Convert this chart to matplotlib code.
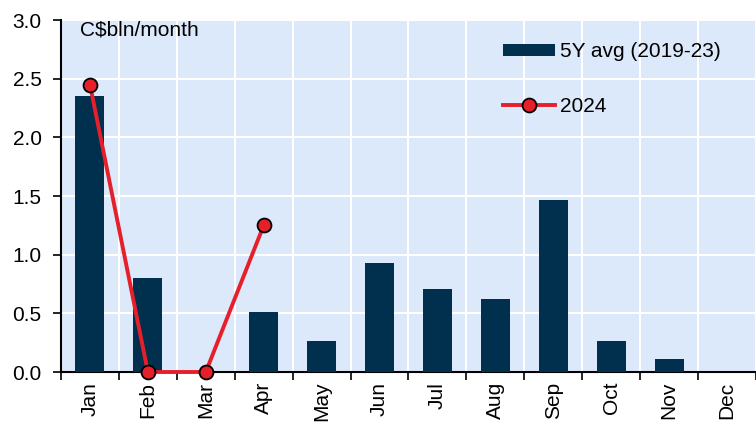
import numpy as np
import matplotlib
matplotlib.use("Agg")
import matplotlib.pyplot as plt

months = ["Jan", "Feb", "Mar", "Apr", "May", "Jun", "Jul", "Aug", "Sep", "Oct", "Nov", "Dec"]
avg_5y = [2.35, 0.80, 0.0, 0.51, 0.26, 0.93, 0.71, 0.62, 1.47, 0.26, 0.11, 0.0]
y2024 = [2.45, 0.0, 0.0, 1.25]
yticks = [0.0, 0.5, 1.0, 1.5, 2.0, 2.5, 3.0]

plt.rcParams['font.family'] = ['Liberation Sans', 'DejaVu Sans']
fs = 15

fig = plt.figure(figsize=(7.56, 4.23), dpi=100)
ax = fig.add_axes([61/756, 1 - 372/423, 1 - 61/756, 352/423])
ax.set_facecolor("#dce9fb")

x = np.arange(len(months))
bars = ax.bar(x, avg_5y, width=0.5, color="#00304d", label="5Y avg (2019-23)", zorder=3)
line, = ax.plot(x[:len(y2024)], y2024, color="#e5202a", lw=2.8, marker="o", ms=10,
                mfc="#e5202a", mec="black", mew=1.3, label="2024", zorder=4, clip_on=False)

ax.set_ylim(0, 3.0)
ax.set_yticks(yticks)
ax.set_yticklabels([f"{v:.1f}" for v in yticks], fontsize=fs)
ax.set_xlim(-0.5, 11.38)
ax.set_xticks(x)
ax.set_xticklabels(months, rotation=90, fontsize=fs)
ax.set_xticks(np.arange(-0.5, 12, 1), minor=True)
ax.tick_params(axis="x", which="major", length=0, pad=7)
ax.tick_params(axis="x", which="minor", length=6, direction="out", width=1.2)
ax.tick_params(axis="y", length=6, direction="out", width=1.2, pad=8)

ax.grid(axis="y", color="white", lw=1.5, zorder=0)
ax.grid(axis="x", which="minor", color="white", lw=1.5, zorder=0)
ax.set_axisbelow(True)

for s in ["top", "right"]:
    ax.spines[s].set_visible(False)
ax.spines["left"].set_linewidth(1.5)
ax.spines["bottom"].set_linewidth(1.5)

ax.text(19/695, (372 - 30) / 352, "C$bln/month", transform=ax.transAxes, fontsize=fs,
        va="center", ha="left")

ax.legend([bars, line], ["5Y avg (2019-23)", "2024"], loc="center left",
          bbox_to_anchor=((503 - 61) / 695, (372 - 79) / 352), frameon=False, fontsize=fs,
          handlelength=2.5, handleheight=0.55, labelspacing=1.7, handletextpad=0.25,
          borderpad=0, borderaxespad=0)

fig.savefig("out.png", dpi=100)
